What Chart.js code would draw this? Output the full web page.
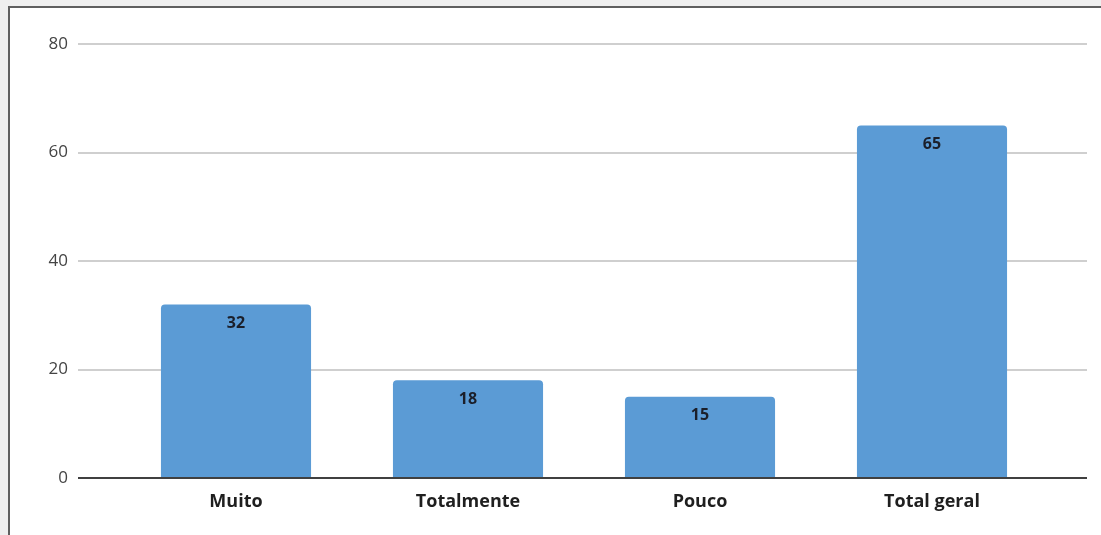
<!DOCTYPE html>
<html>
<head>
<meta charset="utf-8">
<script src="https://cdn.jsdelivr.net/npm/chart.js@4"></script>
<style>
  body { margin: 0; background: #efefef; overflow: hidden; }
  #panel { position: absolute; left: 8px; top: 6px; width: 1110px; height: 540px; background: #fff; border: 2px solid #5f5f5f; }
  #wrap { position: absolute; left: 0; top: 0; width: 1101px; height: 535px; }
</style>
</head>
<body>
<div id="panel"></div>
<div id="wrap"><canvas id="myChart"></canvas></div>
<script>
var categorias = ["Muito", "Totalmente", "Pouco", "Total geral"];
var valores = [32, 18, 15, 65];
var yTicks = [0, 20, 40, 60, 80];

// linhas de grade mais largas que a área do gráfico, como no original
var gradePlugin = {
  id: 'grade',
  beforeDatasetsDraw: function(chart) {
    var c = chart.ctx, y = chart.scales.y;
    c.save();
    c.strokeStyle = '#cfcfcf';
    c.lineWidth = 2;
    yTicks.forEach(function(v) {
      if (v === 0) return;
      var py = Math.round(y.getPixelForValue(v));
      c.beginPath(); c.moveTo(78, py); c.lineTo(1087, py); c.stroke();
    });
    c.restore();
  },
  afterDatasetsDraw: function(chart) {
    var c = chart.ctx, y = chart.scales.y;
    c.save();
    c.strokeStyle = '#404040';
    c.lineWidth = 2;
    var py = Math.round(y.getPixelForValue(0));
    c.beginPath(); c.moveTo(78, py); c.lineTo(1087, py); c.stroke();
    // rótulos dos valores
    var meta = chart.getDatasetMeta(0);
    c.fillStyle = '#1b1f2a';
    c.font = 'bold 16px "Open Sans"';
    c.textAlign = 'center';
    c.textBaseline = 'middle';
    meta.data.forEach(function(bar, i) {
      c.fillText(valores[i], bar.x, bar.y + 19);
    });
    c.restore();
  }
};

var ctx = document.getElementById('myChart').getContext('2d');
var chart = new Chart(ctx, {
  type: 'bar',
  data: {
    labels: categorias,
    datasets: [{
      data: valores,
      backgroundColor: '#5b9bd5',
      borderRadius: { topLeft: 4, topRight: 4 },
      borderSkipped: 'bottom',
      barPercentage: 0.647,
      categoryPercentage: 1
    }]
  },
  options: {
    responsive: true,
    maintainAspectRatio: false,
    animation: false,
    layout: { padding: { top: 44, right: 53, left: 0, bottom: 0 } },
    plugins: { legend: { display: false }, tooltip: { enabled: false } },
    scales: {
      x: {
        grid: { display: false, drawTicks: false },
        border: { display: false },
        ticks: { color: '#1f1f1f', font: { family: 'Open Sans', size: 18, weight: 'bold' }, padding: 13 },
        afterFit: function(s) { s.height = 57; s.paddingLeft = 0; s.paddingRight = 0; }
      },
      y: {
        min: 0, max: 80,
        grid: { display: false, drawTicks: false },
        border: { display: false },
        ticks: { stepSize: 20, color: '#444', font: { family: 'Open Sans', size: 17 }, padding: 52 },
        afterFit: function(s) { s.width = 120; s.paddingTop = 0; s.paddingBottom = 0; }
      }
    }
  },
  plugins: [gradePlugin]
});
</script>
</body>
</html>
